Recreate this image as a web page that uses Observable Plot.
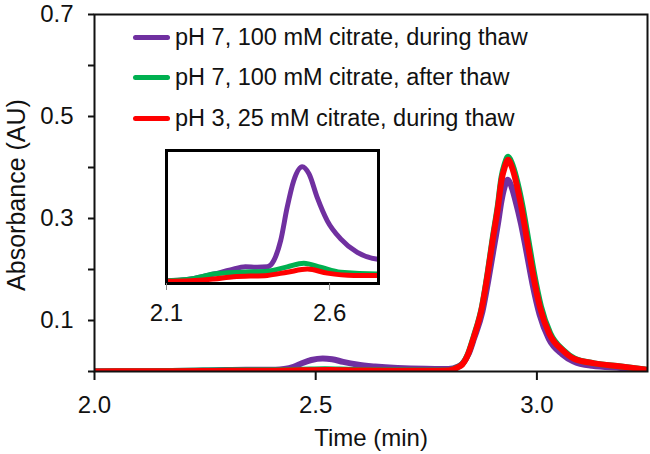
<!DOCTYPE html>
<html><head><meta charset="utf-8">
<script src="https://cdn.jsdelivr.net/npm/d3@7"></script>
<script src="https://cdn.jsdelivr.net/npm/@observablehq/plot@0.6"></script>
<style>
body{margin:0;background:#fff;}
#wrap{position:relative;width:650px;height:454px;font-family:"Liberation Sans",Arial,sans-serif;}
#inset{position:absolute;left:140px;top:140px;}
#legend{position:absolute;left:133px;top:17px;}
.row{display:flex;align-items:center;height:40.5px;font-size:23.5px;color:#111;white-space:nowrap;}
.sw{width:37px;height:5px;border-radius:3px;margin-right:5px;}
</style></head><body><div id="wrap"><div id="main"></div><div id="inset"></div><div id="legend"></div></div>
<script>
const seriesNames = ["pH 7, 100 mM citrate, during thaw", "pH 7, 100 mM citrate, after thaw", "pH 3, 25 mM citrate, during thaw"];
const seriesColors = ["#7030A0", "#00B050", "#FF0000"];

const purpleTime = [2.00, 2.10, 2.174, 2.245, 2.296, 2.342, 2.378, 2.409, 2.429, 2.45, 2.47, 2.49, 2.516, 2.537, 2.562, 2.593, 2.634, 2.685, 2.748, 2.80, 2.821, 2.831, 2.846, 2.858, 2.877, 2.890, 2.901, 2.912, 2.920, 2.927, 2.934, 2.942, 2.951, 2.964, 2.977, 2.990, 3.006, 3.027, 3.057, 3.082, 3.125, 3.19, 3.25];
const purpleAbs  = [0.0003, 0.0004, 0.0008, 0.0019, 0.0028, 0.0035, 0.0034, 0.0035, 0.0049, 0.0093, 0.0167, 0.0226, 0.0257, 0.0241, 0.0189, 0.0137, 0.0097, 0.0067, 0.0052, 0.0050, 0.0095, 0.015, 0.035, 0.065, 0.118, 0.178, 0.234, 0.290, 0.335, 0.362, 0.376, 0.364, 0.337, 0.290, 0.232, 0.172, 0.112, 0.064, 0.034, 0.020, 0.011, 0.007, 0.003];

const greenTime = [2.00, 2.10, 2.174, 2.245, 2.327, 2.409, 2.47, 2.521, 2.572, 2.634, 2.748, 2.80, 2.821, 2.831, 2.845, 2.857, 2.876, 2.889, 2.900, 2.912, 2.920, 2.927, 2.935, 2.943, 2.953, 2.967, 2.980, 2.993, 3.009, 3.030, 3.061, 3.086, 3.13, 3.19, 3.25];
const greenAbs  = [0.0002, 0.0004, 0.0008, 0.0019, 0.0023, 0.0025, 0.0035, 0.0043, 0.0034, 0.0023, 0.0019, 0.0022, 0.0085, 0.014, 0.036, 0.068, 0.128, 0.195, 0.261, 0.327, 0.381, 0.406, 0.421, 0.409, 0.381, 0.326, 0.261, 0.195, 0.128, 0.075, 0.041, 0.025, 0.016, 0.010, 0.0035];

const redTime = [2.00, 2.10, 2.174, 2.245, 2.306, 2.409, 2.47, 2.532, 2.593, 2.675, 2.748, 2.80, 2.821, 2.831, 2.845, 2.857, 2.876, 2.889, 2.900, 2.912, 2.920, 2.927, 2.935, 2.943, 2.952, 2.965, 2.978, 2.991, 3.007, 3.028, 3.059, 3.084, 3.13, 3.19, 3.25];
const redAbs  = [0.0002, 0.0003, 0.0004, 0.0008, 0.0013, 0.0016, 0.0023, 0.0030, 0.0021, 0.0016, 0.0016, 0.0018, 0.008, 0.0135, 0.035, 0.066, 0.126, 0.192, 0.257, 0.322, 0.375, 0.400, 0.415, 0.402, 0.375, 0.322, 0.257, 0.192, 0.126, 0.074, 0.041, 0.025, 0.016, 0.010, 0.0033];

const xTicks = [2.0, 2.5, 3.0];
const yTicks = [0, 0.1, 0.2, 0.3, 0.4, 0.5, 0.6, 0.7];
const yTickLabels = [0.1, 0.3, 0.5, 0.7];
const insetXTicks = [2.1, 2.6];

const allTimes = [purpleTime, greenTime, redTime];
const allAbs = [purpleAbs, greenAbs, redAbs];
const rows = [];
seriesNames.forEach((s, i) => allTimes[i].forEach((t, j) => rows.push({series: s, time: t, abs: allAbs[i][j]})));

const font = "'Liberation Sans', Arial, sans-serif";
const colorScale = {domain: seriesNames, range: seriesColors};

const main = Plot.plot({
  width: 650, height: 454,
  marginLeft: 94, marginRight: 3, marginTop: 14, marginBottom: 83,
  x: {domain: [2.0, 3.25]},
  y: {domain: [0, 0.7]},
  color: colorScale,
  style: {fontFamily: font, fontSize: "24px", color: "#111", background: "transparent"},
  marks: [
    Plot.lineY(rows, {x: "time", y: "abs", z: "series", stroke: "series", strokeWidth: 6, curve: "monotone-x", strokeLinejoin: "round", clip: true}),
    Plot.frame({stroke: "#111", strokeWidth: 2}),
    Plot.axisY({ticks: yTicks, tickSize: 6, tickPadding: 15, strokeWidth: 2, tickFormat: d => yTickLabels.includes(d) ? d.toFixed(1) : "", label: null}),
    Plot.axisX({ticks: xTicks, tickSize: 9, tickPadding: 15, strokeWidth: 2, tickFormat: d => d.toFixed(1), label: null}),
    Plot.text(["Time (min)"], {frameAnchor: "bottom", dy: 57, lineAnchor: "top", textAnchor: "middle", fontSize: 24, text: d => d}),
    Plot.text(["Absorbance (AU)"], {frameAnchor: "left", dx: -87, dy: 2, rotate: -90, lineAnchor: "top", textAnchor: "middle", fontSize: 25, text: d => d})
  ]
});
document.getElementById("main").appendChild(main);

const inset = Plot.plot({
  width: 250, height: 190,
  marginLeft: 26, marginRight: 12, marginTop: 10, marginBottom: 47,
  x: {domain: [2.1, 2.75]},
  y: {domain: [-0.0002, 0.0293], axis: null},
  color: colorScale,
  style: {fontFamily: font, fontSize: "24px", color: "#111", background: "transparent"},
  marks: [
    Plot.frame({fill: "white"}),
    Plot.lineY(rows, {x: "time", y: "abs", z: "series", stroke: "series", strokeWidth: 5, curve: "monotone-x", strokeLinejoin: "round", clip: true}),
    Plot.frame({stroke: "#000", strokeWidth: 3}),
    Plot.axisX({ticks: insetXTicks, tickSize: 7, tickPadding: 13, stroke: "#888", tickFormat: d => d.toFixed(1), label: null})
  ]
});
document.getElementById("inset").appendChild(inset);

const legend = document.getElementById("legend");
seriesNames.forEach((s, i) => {
  const row = document.createElement("div");
  row.className = "row";
  const sw = document.createElement("span");
  sw.className = "sw";
  sw.style.background = seriesColors[i];
  const tx = document.createElement("span");
  tx.textContent = s;
  row.appendChild(sw); row.appendChild(tx);
  legend.appendChild(row);
});
</script></body></html>
